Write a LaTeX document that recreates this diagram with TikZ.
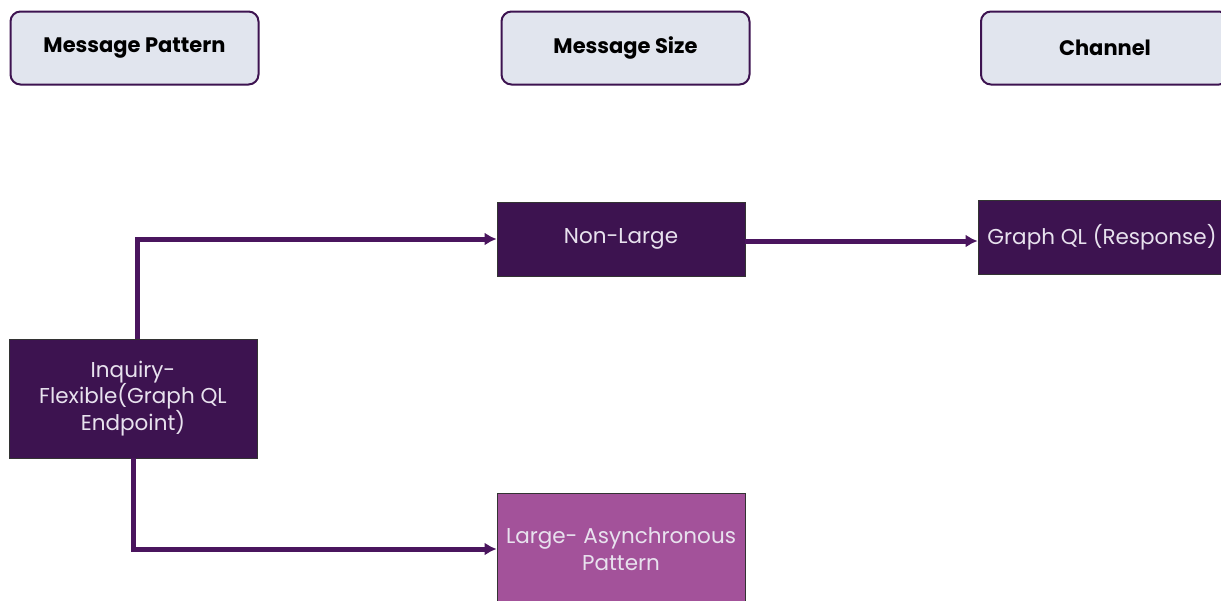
\documentclass[tikz,border=0pt]{standalone}
\usepackage{fontspec}
\setmainfont{Poppins}
\usetikzlibrary{arrows.meta}
\definecolor{hdrfill}{HTML}{E1E5EE}
\definecolor{plum}{HTML}{3D1350}
\definecolor{orchid}{HTML}{A3529A}
\definecolor{linktone}{HTML}{4A155E}
\definecolor{paletext}{HTML}{E8E2EE}
\begin{document}
\begin{tikzpicture}[x=1pt,y=-1pt,
  header/.style={draw=plum, line width=2pt, fill=hdrfill, rounded corners=10pt,
    minimum width=248pt, minimum height=73pt, inner sep=0pt,
    font=\fontsize{21}{25}\selectfont\bfseries, text=black},
  stepbox/.style={draw=black!80, line width=0.8pt, fill=plum,
    minimum width=248pt, minimum height=74pt, inner sep=1pt,
    font=\fontsize{21.5}{26.5}\selectfont\mdseries, text=paletext, align=center},
  link/.style={draw=linktone, line width=5pt,
    -{Latex[length=12pt,width=13pt]}},
]
\useasboundingbox (0,0) rectangle (1221,600);
\clip (0,0) rectangle (1221,600);
\fill[white] (0,0) rectangle (1221,600);

% column headers
\node[header] (hpat)  at (134.5,48) {Message Pattern};
\node[header] (hsize) at (625.5,48) {Message Size};
\node[header] (hchan) at (1105,48)  {Channel};

% flow boxes
\node[stepbox, minimum height=119pt] (inq) at (133,398.5)
  {Inquiry-\\Flexible(Graph QL\\Endpoint)};
\node[stepbox] (small) at (621,239) {Non-Large};
\node[stepbox] (resp)  at (1102,237) {Graph QL (Response)};
\node[stepbox, fill=orchid, minimum height=112pt] (large) at (621,549)
  {Large- Asynchronous\\Pattern};

% connectors
\draw[link] ([xshift=4pt]inq.north) |- (small.west);
\draw[link] (inq.south) |- (large.west);
\draw[link] ([yshift=-2pt]small.east) -- ([yshift=-2pt]small.east -| resp.west);
\end{tikzpicture}
\end{document}
